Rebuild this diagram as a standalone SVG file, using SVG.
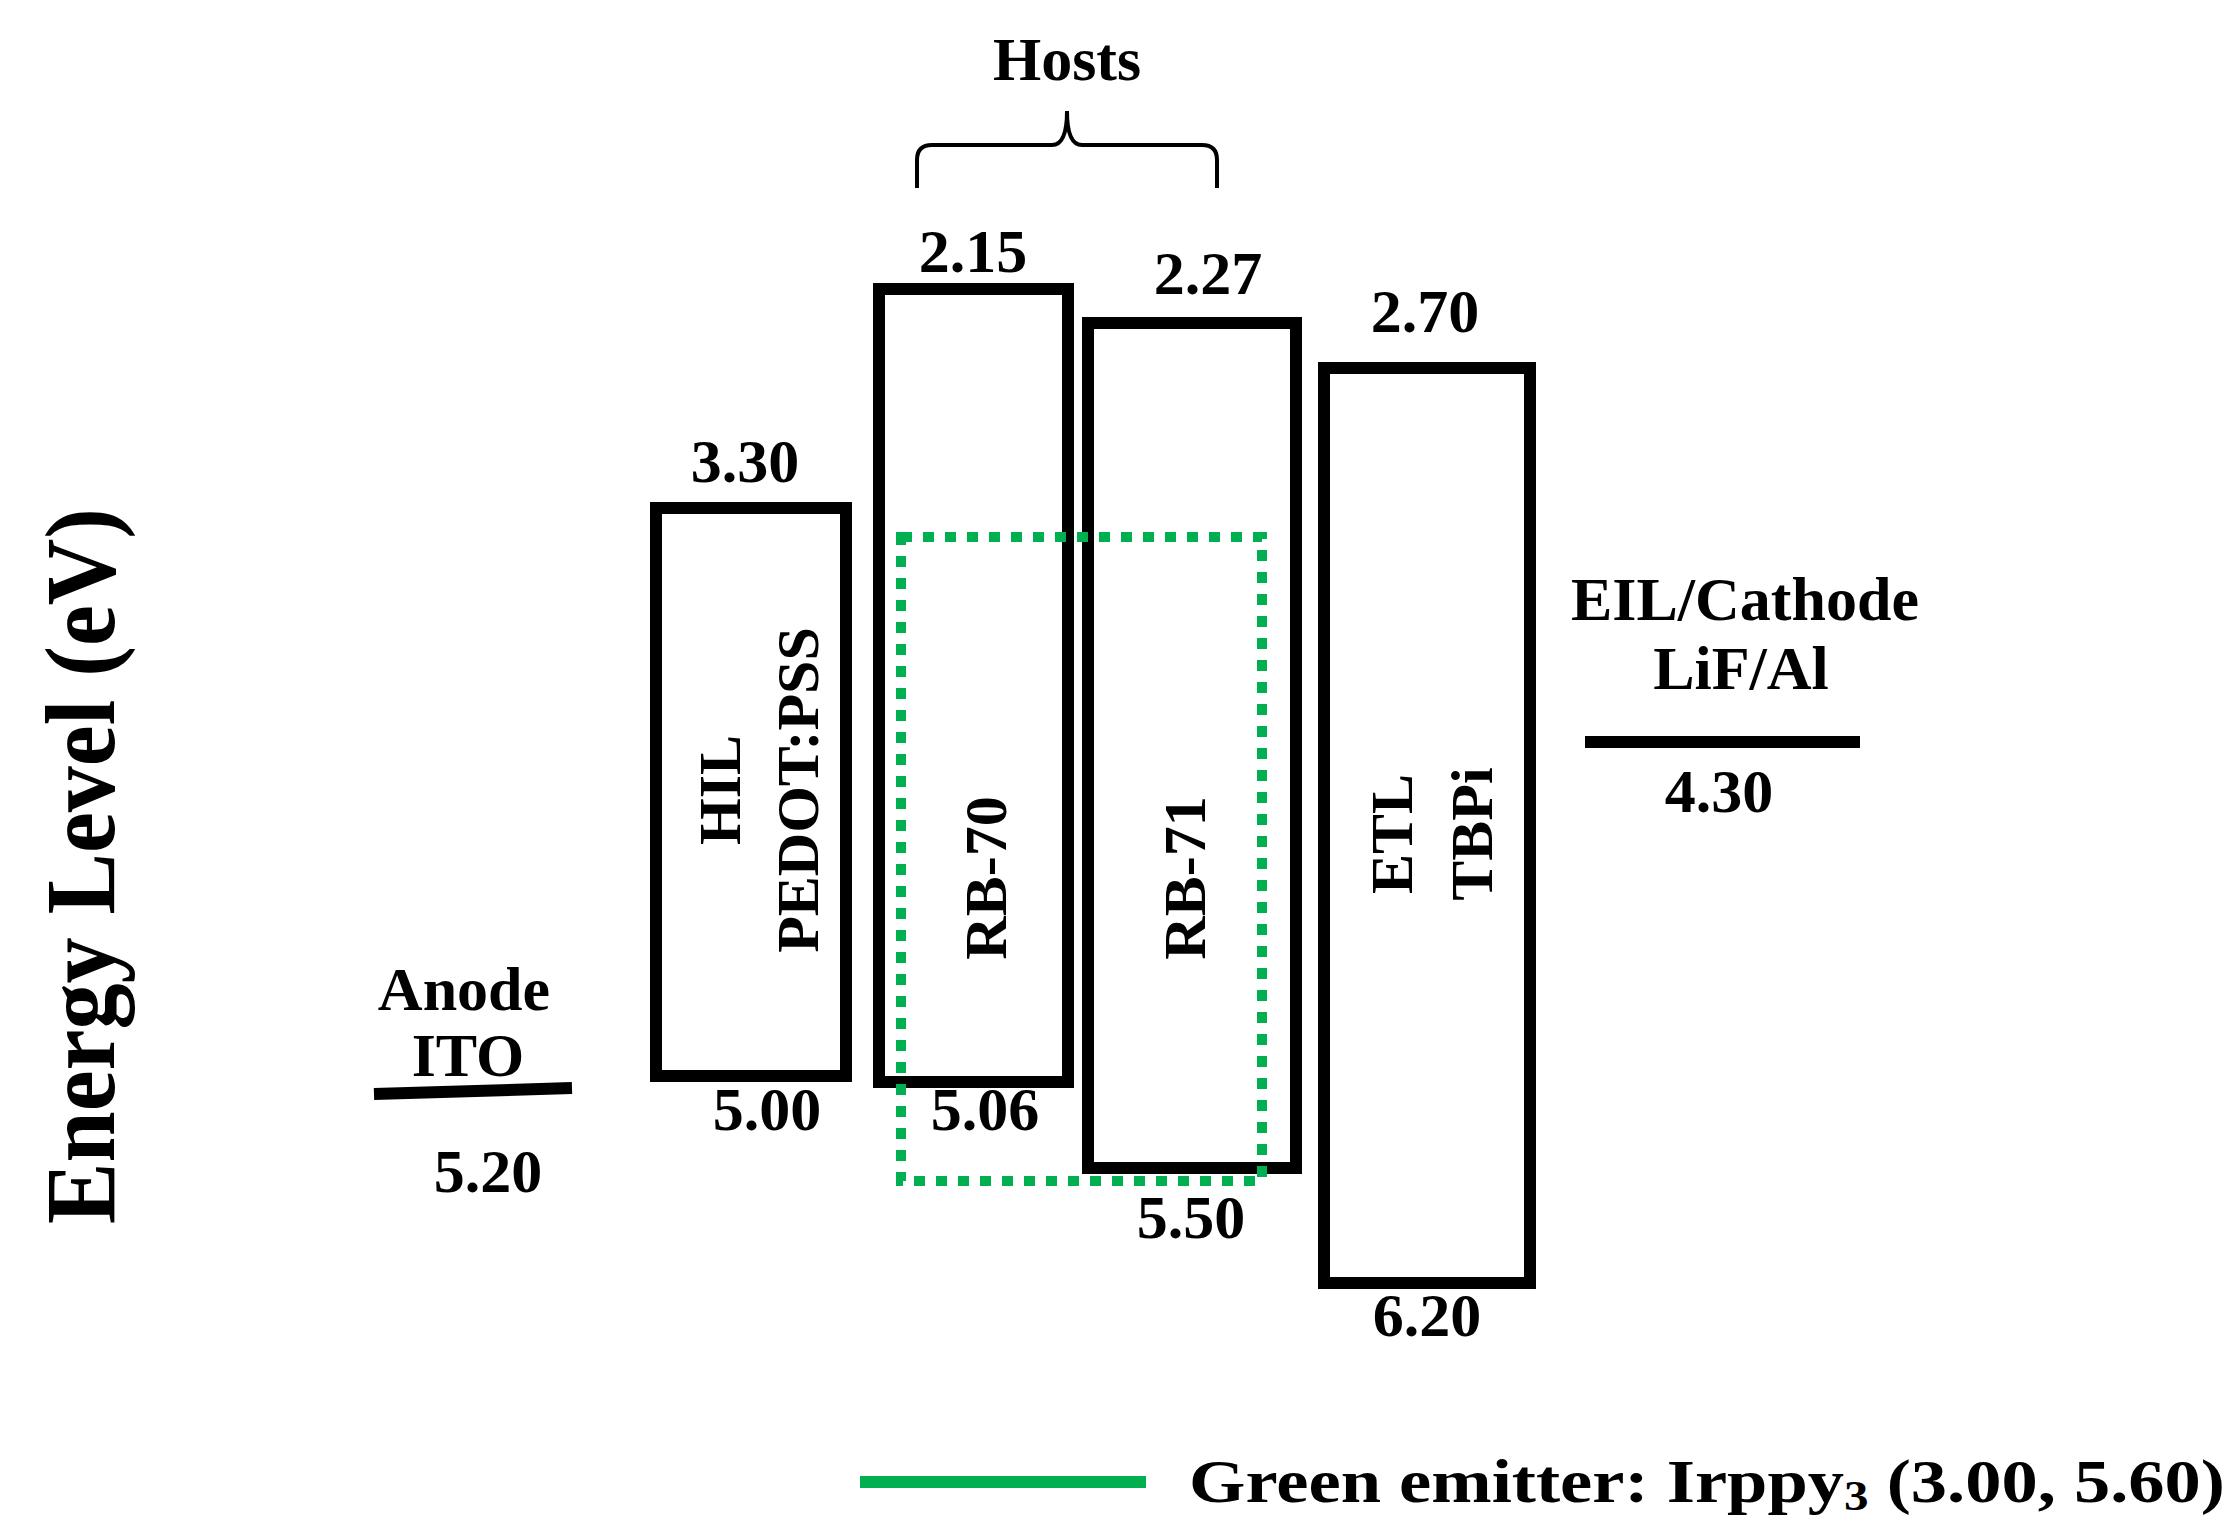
<svg xmlns="http://www.w3.org/2000/svg" width="2239" height="1536" viewBox="0 0 2239 1536">
<style>
.b{fill:#fff;stroke:#000;stroke-width:12}
text{font-family:"Liberation Serif",serif;font-weight:bold;fill:#000}
.n{font-size:62px;text-anchor:middle}
.v{font-size:60px;text-anchor:middle}
</style>
<rect width="2239" height="1536" fill="#fff"/>
<g transform="translate(-8,0)">
<g id="connectors">
<path d="M925,188 V160 Q925,145 940,145 H1060 Q1075,145 1075,111 Q1075,145 1090,145 H1210 Q1225,145 1225,160 V188" fill="none" stroke="#000" stroke-width="4"/>
<line x1="382" y1="1094" x2="580" y2="1088" stroke="#000" stroke-width="12"/>
<line x1="1593" y1="742" x2="1868" y2="742" stroke="#000" stroke-width="12"/>
</g>
<g id="hil"><rect class="b" x="664" y="508" width="190" height="568"/>
<text class="v" transform="translate(748,790) rotate(-90)">HIL</text>
<text class="v" transform="translate(826,790) rotate(-90)">PEDOT:PSS</text></g>
<g id="rb70"><rect class="b" x="887" y="289" width="189" height="793"/>
<text class="v" transform="translate(1014,878) rotate(-90)">RB-70</text></g>
<g id="rb71"><rect class="b" x="1096" y="323" width="208" height="845"/>
<text class="v" transform="translate(1213,878) rotate(-90)">RB-71</text></g>
<g id="etl"><rect class="b" x="1332" y="368" width="206" height="915"/>
<text class="v" transform="translate(1420,834) rotate(-90)">ETL</text>
<text class="v" transform="translate(1500,834) rotate(-90)">TBPi</text></g>
<g id="emitter"><rect x="909" y="537" width="361" height="644" fill="none" stroke="#00b050" stroke-width="10" stroke-dasharray="11,11"/></g>
<g id="labels">
<text class="n" x="1075" y="80">Hosts</text>
<text class="n" x="981" y="272">2.15</text>
<text class="n" x="1216" y="294">2.27</text>
<text class="n" x="1433" y="332">2.70</text>
<text class="n" x="753" y="482">3.30</text>
<text class="n" x="775" y="1130">5.00</text>
<text class="n" x="993" y="1130">5.06</text>
<text class="n" x="1199" y="1238">5.50</text>
<text class="n" x="1435" y="1336">6.20</text>
<text class="n" x="496" y="1192">5.20</text>
<text class="n" x="1727" y="812">4.30</text>
<text class="n" x="472" y="1010">Anode</text>
<text class="n" x="476" y="1076">ITO</text>
<text class="n" x="1753" y="620">EIL/Cathode</text>
<text class="n" x="1749" y="689">LiF/Al</text>
<text transform="translate(122,866) rotate(-90)" style="font-size:100px;text-anchor:middle" textLength="716" lengthAdjust="spacingAndGlyphs">Energy Level (eV)</text>
</g>
<g id="legend">
<line x1="868" y1="1482" x2="1154" y2="1482" stroke="#00b050" stroke-width="12"/>
<text x="1197" y="1502" style="font-size:62px" textLength="1036" lengthAdjust="spacingAndGlyphs">Green emitter: Irppy<tspan style="font-size:42px" dy="8">3</tspan><tspan dy="-8"> (3.00, 5.60)</tspan></text>
</g>
</g>
</svg>
